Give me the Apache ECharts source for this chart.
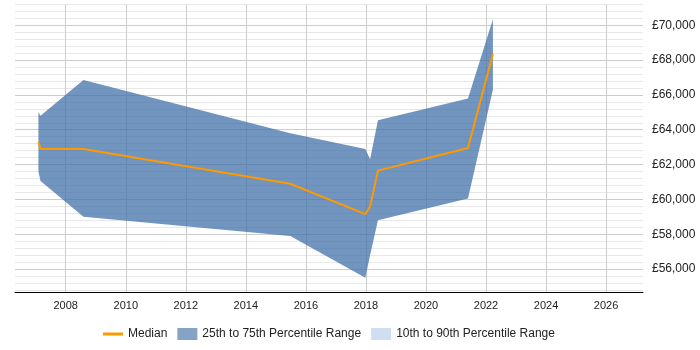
<!DOCTYPE html>
<html>
<head>
<meta charset="utf-8">
<script src="https://cdn.jsdelivr.net/npm/echarts@6/dist/echarts.min.js"></script>
<style>
  html, body { margin: 0; padding: 0; background: #fff; }
  #chart { width: 700px; height: 350px; }
</style>
</head>
<body>
<div id="chart"></div>
<script>
// values
const years = [2007.09, 2007.16, 2008.59, 2015.48, 2017.98, 2018.14, 2018.4, 2021.4, 2022.23];
const median = [63300, 62900, 62900, 60900, 59150, 59600, 61650, 62950, 68350];
const p25 = [61600, 61050, 59000, 57900, 55500, 56800, 58800, 60050, 66300];
const p75 = [65000, 64800, 66850, 63800, 62900, 62300, 64550, 65800, 70350];
const legendNames = ["Median", "25th to 75th Percentile Range", "10th to 90th Percentile Range"];

const font = 'Arial, "Liberation Sans", sans-serif';
const gbp = (v) => "£" + String(v).replace(/\B(?=(\d{3})+(?!\d))/g, ",");

const chart = echarts.init(document.getElementById("chart"));

// 25-75 band as one polygon: upper edge forward, lower edge back
function renderBand(params, api) {
  if (params.dataIndex !== 0) return null;
  const upper = years.map((y, i) => api.coord([y, p75[i]]));
  const lower = years.map((y, i) => api.coord([y, p25[i]])).reverse();
  return {
    type: "polygon",
    shape: { points: upper.concat(lower) },
    style: { fill: "rgba(65,113,168,0.75)" },
  };
}

const option = {
  animation: false,
  grid: [
    // only used for the light minor grid lines
    { left: 15, right: 57, top: 4.39, bottom: 60.09 },
    { left: 15, right: 57, top: 5, bottom: 58 },
  ],
  xAxis: [
    { gridIndex: 0, type: "value", min: 0, max: 1, show: false },
    {
      gridIndex: 1,
      type: "value",
      min: 2006.31,
      max: 2027.23,
      splitNumber: 10,
      axisLine: { lineStyle: { color: "#000", width: 1 } },
      axisTick: { show: false },
      axisLabel: {
        margin: 8,
        fontSize: 11,
        color: "#222",
        fontFamily: font,
        showMinLabel: false,
        showMaxLabel: false,
        formatter: (v) => String(v),
      },
      splitLine: {
        show: true,
        showMinLine: false,
        showMaxLine: false,
        lineStyle: { color: "#cccccc" },
      },
    },
  ],
  yAxis: [
    {
      gridIndex: 0,
      type: "value",
      min: 54800,
      max: 71200,
      interval: 400,
      axisLine: { show: false },
      axisTick: { show: false },
      axisLabel: { show: false },
      splitLine: { show: true, lineStyle: { color: "#e8e8e8" } },
    },
    {
      gridIndex: 1,
      type: "value",
      position: "right",
      min: 54680,
      max: 71165,
      splitNumber: 8,
      axisLine: { show: false },
      axisTick: { show: false },
      axisLabel: {
        margin: 9,
        fontSize: 12,
        color: "#222",
        fontFamily: font,
        showMinLabel: false,
        showMaxLabel: false,
        formatter: gbp,
      },
      splitLine: {
        show: true,
        showMinLine: false,
        showMaxLine: false,
        lineStyle: { color: "#cccccc" },
      },
    },
  ],
  legend: {
    left: 103,
    top: 328,
    padding: 0,
    itemWidth: 20,
    itemHeight: 12,
    itemGap: 10,
    textStyle: { fontSize: 12, color: "#222", fontFamily: font },
    data: [
      {
        name: legendNames[0],
        icon: "path://M0,0 M0,4.5 L20,4.5 L20,7.5 L0,7.5 Z M20,12",
        itemStyle: { color: "#ff9900" },
      },
      { name: legendNames[1], icon: "rect", itemStyle: { color: "#85a3c4" } },
      { name: legendNames[2], icon: "rect", itemStyle: { color: "#cfdef0" } },
    ],
  },
  series: [
    // 10-90 range: legend entry only
    {
      name: legendNames[2],
      type: "line",
      xAxisIndex: 1,
      yAxisIndex: 1,
      data: [],
      symbol: "none",
      itemStyle: { color: "#cfdef0" },
    },
    {
      name: legendNames[1],
      type: "custom",
      xAxisIndex: 1,
      yAxisIndex: 1,
      data: years.map((y, i) => [y, p25[i], p75[i]]),
      encode: { x: 0, y: [1, 2] },
      renderItem: renderBand,
      itemStyle: { color: "#85a3c4" },
      silent: true,
    },
    {
      name: legendNames[0],
      type: "line",
      xAxisIndex: 1,
      yAxisIndex: 1,
      data: years.map((y, i) => [y, median[i]]),
      symbol: "none",
      z: 5,
      itemStyle: { color: "#ff9900" },
      lineStyle: { color: "#ff9900", width: 2 },
    },
  ],
};

chart.setOption(option);
</script>
</body>
</html>
